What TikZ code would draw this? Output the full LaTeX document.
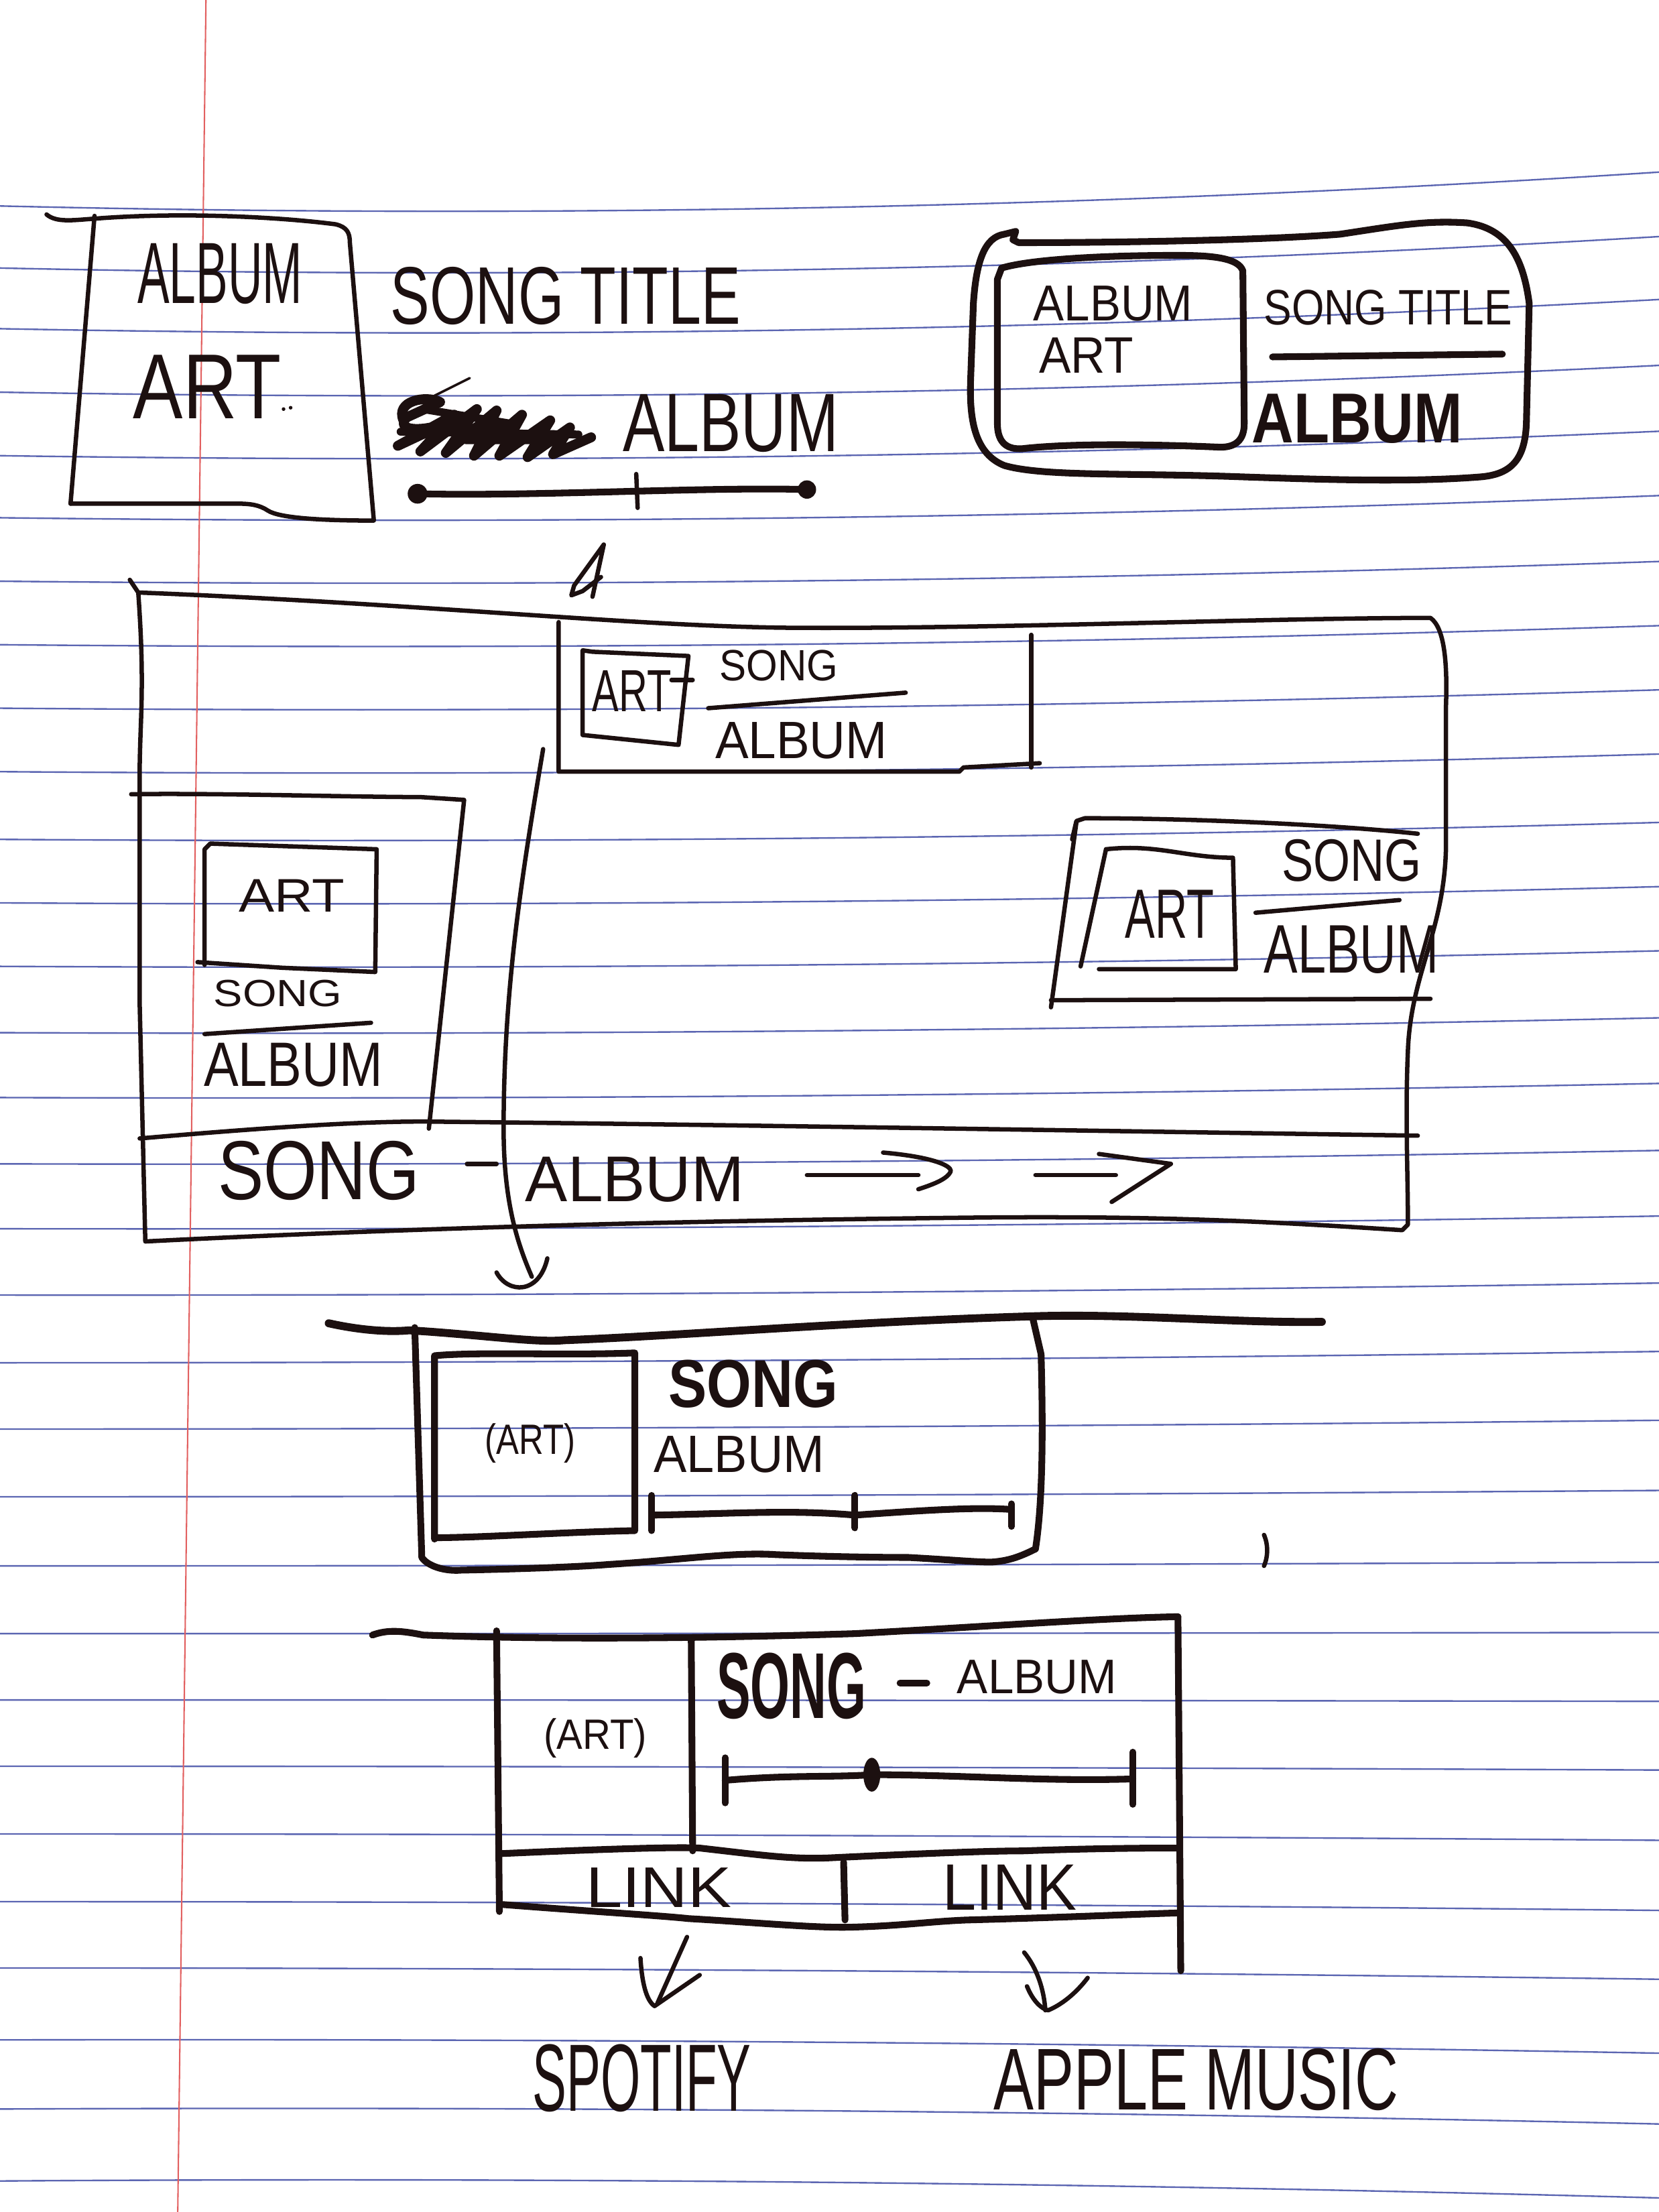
\documentclass[tikz,border=0pt]{standalone}
\usepackage{fontspec}
\setmainfont{Liberation Sans}
\usepackage{graphicx}
\newlength\du
\setlength\du{0.025cm}
% fit a label into a w x h box (picture units)
\newcommand\fitt[3]{\resizebox*{#1\du}{#2\du}{#3}}
\definecolor{ink}{RGB}{28,16,16}
\definecolor{rulecol}{RGB}{92,102,178}
\definecolor{margincol}{RGB}{226,96,96}

\begin{document}
\begin{tikzpicture}[x=0.025cm,y=-0.025cm,
  pen/.style={draw=ink, line width=2.2pt, line cap=round, line join=round},
  heavy/.style={draw=ink, line width=3.4pt, line cap=round, line join=round},
  thick pen/.style={draw=ink, line width=4pt, line cap=round, line join=round},
  txt/.style={inner sep=0pt, outer sep=0pt, text=ink},
  paperrule/.style={draw=rulecol, line width=0.8pt},
]
\useasboundingbox (0,0) rectangle (1176,1568);
\fill[white] (0,0) rectangle (1176,1568);

% ---------- ruled paper ----------
\foreach \ry/\rt/\rs in {146/-24/26,190/-22.3/23.8,233/-20.7/21.7,278/-19/19.5,
  323/-17.3/17.3,367/-15.7/15.2,412/-14/13,457/-13.5/12.3,502/-13/11.5,
  547/-12.5/10.8,595/-12/10,640/-11.5/9.3,685/-11/8.6,732/-10.5/7.8,
  778/-10/7.1,825/-9.5/6.3,871/-9/5.5,918/-8.5/4.8,966/-8/4,1013/-6.2/3.1,
  1061/-4.5/2.2,1110/-2.6/1.3,1158/-0.8/0.4,1205/1/-0.5,1252/2.7/-1.3,
  1300/4.5/-2.2,1348/6.2/-3.1,1395/8/-4,1446/9.4/-6,1495/10.6/-8,1546/12/-10}{
  \pgfmathsetmacro\ca{\ry+(2/3)*(\rt/2+\rs)}
  \pgfmathsetmacro\cb{\ry+\rt+(2/3)*(\rs-\rt/2)}
  \pgfmathsetmacro\ce{\ry+\rt}
  \draw[paperrule] (0,\ry) .. controls (392,\ca) and (784,\cb) .. (1176,\ce);
}
\draw[margincol, line width=0.7pt] (146,0) -- (126,1568);

% ---------- player card, wide layout ----------
\draw[pen] (33,152) .. controls (40,158) and (52,156) .. (67,155)
  .. controls (130,150) and (200,154) .. (238,159)
  .. controls (246,161) and (248,165) .. (248,172) -- (265,369)
  .. controls (225,369) and (198,367) .. (190,362)
  .. controls (184,358) and (178,357) .. (168,357) -- (50,357);
\draw[pen] (67,153) -- (50,357);
\node[txt] (artA) at (156,194) {\fitt{117}{43}{ALBUM}};
\node[txt] (artB) at (147,274) {\fitt{105}{45}{ART}};
\fill[ink] (201,290) circle (1.3) (206,289) circle (1.3);
\node[txt] (titleA) at (401,210) {\fitt{248}{41}{SONG TITLE}};
% crossed-out word
\draw[thick pen, line width=5pt] (286,298) .. controls (280,284) and (302,280) .. (312,285) -- (288,296)
  .. controls (280,306) and (300,306) .. (316,300) -- (282,316) -- (322,294)
  -- (298,320) -- (338,290) -- (316,321) -- (352,291) -- (336,323) -- (370,294)
  -- (354,323) -- (390,298) -- (374,324) -- (404,303) -- (392,322) -- (419,310);
\draw[thick pen] (284,306) -- (410,308);
\draw[thick pen] (300,290) -- (360,300) -- (330,312) -- (395,312);
\draw[pen, line width=1.2pt] (305,282) -- (333,268);
\node[txt] (albumA) at (518,300) {\fitt{153}{41}{ALBUM}};
\coordinate (seekA0) at (296,350);
\coordinate (seekA1) at (572,347);
\draw[heavy] (seekA0) .. controls (380,352) and (500,345) .. (seekA1);
\fill[ink] (seekA0) circle (7) (seekA1) circle (6.5);
\draw[pen] (451,336) -- (452,360);

% ---------- player card, rounded layout ----------
\draw[heavy] (722,172) .. controls (800,172) and (900,170) .. (950,166)
  .. controls (990,160) and (1010,156) .. (1040,158)
  .. controls (1070,162) and (1080,185) .. (1084,215) -- (1082,300)
  .. controls (1081,325) and (1072,336) .. (1050,338)
  .. controls (1000,342) and (940,340) .. (880,338)
  .. controls (800,335) and (740,338) .. (712,330)
  .. controls (692,322) and (687,300) .. (688,270) -- (690,215)
  .. controls (692,185) and (698,168) .. (712,166) -- (720,164) -- (718,170) -- (722,172);
\draw[heavy] (710,190) .. controls (730,184) and (780,181) .. (835,181)
  .. controls (860,181) and (878,183) .. (881,192) -- (882,300)
  .. controls (882,312) and (876,317) .. (865,317)
  .. controls (820,315) and (760,314) .. (725,318)
  .. controls (712,319) and (707,312) .. (707,300) -- (707,198) -- cycle;
\node[txt] (artC) at (789,215) {\fitt{113}{25}{ALBUM}};
\node[txt] (artD) at (770,252) {\fitt{67}{25}{ART}};
\node[txt] (titleB) at (984,218) {\fitt{176}{25}{SONG TITLE}};
\draw[heavy] (902,253) -- (1065,251);
\node[txt] (albumB) at (962,297) {\fitt{149}{35}{\bfseries ALBUM}};

% ---------- full screen with placements ----------
\draw[pen] (420,423) -- (428,386) -- (407,415) -- (405,422) -- (413,419) -- (426,409);
\draw[pen] (92,411) -- (98,420) .. controls (300,428) and (450,444) .. (560,445)
  .. controls (700,446) and (900,438) .. (1014,438)
  .. controls (1024,445) and (1026,470) .. (1025,500) -- (1025,600)
  .. controls (1024,660) and (1000,690) .. (998,745)
  .. controls (996,790) and (998,830) .. (998,868) -- (994,872)
  .. controls (900,866) and (830,862) .. (700,863)
  .. controls (500,865) and (300,870) .. (103,880)
  -- (99,711) -- (99,550) .. controls (99,510) and (103,490) .. (98,420);
\draw[pen] (99,807) .. controls (180,800) and (250,795) .. (300,795)
  .. controls (500,797) and (800,802) .. (1005,805);
% bottom bar
\node[txt] (barSong) at (226,830) {\fitt{143}{42}{SONG}};
\draw[pen] (331,825) -- (352,825);
\node[txt] (barAlbum) at (450,836) {\fitt{155}{32}{ALBUM}};
\draw[pen] (572,833) -- (651,833);
\draw[pen] (626,817) .. controls (660,820) and (674,826) .. (674,830) .. controls (672,836) and (660,840) .. (651,843);
\draw[pen] (734,833) -- (791,833);
\draw[pen] (779,818) -- (830,825) -- (788,852);
% top mini player
\draw[pen] (396,441) -- (396,547) -- (680,547) -- (683,544) -- (737,541);
\draw[pen] (731,450) -- (731,544);
\draw[pen] (413,461) -- (413,521) -- (481,528) -- (488,465) -- (420,462) -- cycle;
\draw[pen] (476,482) -- (491,482);
\node[txt] (miniArt) at (448,490) {\fitt{56}{29}{ART}};
\node[txt] (miniSong) at (552,472) {\fitt{84}{22}{SONG}};
\draw[pen] (502,502) -- (642,491);
\node[txt] (miniAlbum) at (568,525) {\fitt{122}{26}{ALBUM}};
% left card
\draw[pen] (93,563) .. controls (150,562) and (250,565) .. (298,565) -- (329,567) -- (304,800);
\draw[pen] (145,684) -- (145,602) -- (149,598) -- (267,602) -- (266,689) -- (200,686) -- (140,682);
\node[txt] (leftArt) at (207,635) {\fitt{75}{23}{ART}};
\node[txt] (leftSong) at (197,704) {\fitt{91}{19}{SONG}};
\draw[pen] (145,733) -- (263,725);
\node[txt] (leftAlbum) at (208,755) {\fitt{127}{31}{ALBUM}};
% right card
\draw[pen] (760,595) -- (763,582) -- (769,580) .. controls (850,580) and (950,585) .. (1005,591);
\draw[pen] (763,583) -- (745,714);
\draw[pen] (745,709) -- (1014,708);
\draw[pen] (784,602) .. controls (820,598) and (840,608) .. (874,608) -- (876,687) -- (779,687);
\draw[pen] (784,602) -- (766,685);
\node[txt] (rightArt) at (829,648) {\fitt{63}{34}{ART}};
\node[txt] (rightSong) at (958,610) {\fitt{99}{30}{SONG}};
\draw[pen] (890,647) -- (992,638);
\node[txt] (rightAlbum) at (958,673) {\fitt{124}{34}{ALBUM}};

% expand connector
\coordinate (miniTail) at (385,531);
\coordinate (expandTip) at (377,905);
\draw[pen] (miniTail) .. controls (370,620) and (357,700) .. (357,800)
  .. controls (357,850) and (366,880) .. (expandTip);
\draw[pen] (352,902) .. controls (360,917) and (382,918) .. (388,892);

% ---------- expanded player ----------
\draw[thick pen] (233,938) .. controls (260,944) and (280,944) .. (290,943)
  .. controls (340,946) and (380,952) .. (400,950)
  .. controls (480,947) and (600,937) .. (734,933)
  .. controls (800,931) and (880,938) .. (937,937);
\draw[heavy] (294,941) -- (299,1104) .. controls (303,1110) and (315,1114) .. (327,1113)
  .. controls (380,1112) and (420,1110) .. (431,1109)
  .. controls (480,1106) and (520,1100) .. (550,1102)
  .. controls (600,1104) and (640,1104) .. (644,1104)
  .. controls (680,1106) and (700,1108) .. (706,1107)
  .. controls (715,1106) and (722,1104) .. (734,1098)
  .. controls (740,1060) and (739,1000) .. (738,960) -- (732,934);
\draw[heavy] (308,1091) -- (308,961) .. controls (340,958) and (400,961) .. (450,959)
  -- (450,1085) .. controls (400,1086) and (340,1090) .. (308,1090);
\node[txt] (fullArt) at (376,1023) {\fitt{64}{28}{(ART)}};
\node[txt] (fullSong) at (534,981) {\fitt{120}{34}{\bfseries SONG}};
\node[txt] (fullAlbum) at (524,1031) {\fitt{121}{26}{ALBUM}};
\draw[heavy] (462,1060) -- (462,1085);
\draw[heavy] (606,1060) -- (606,1083);
\draw[heavy] (717,1066) -- (717,1082);
\draw[heavy] (462,1074) .. controls (520,1073) and (560,1070) .. (606,1074)
  .. controls (650,1071) and (690,1068) .. (717,1070);
\draw[pen] (896,1088) .. controls (899,1095) and (899,1103) .. (896,1110);

% ---------- player with links ----------
\draw[heavy] (264,1159) .. controls (275,1155) and (285,1156) .. (300,1159)
  .. controls (380,1162) and (480,1162) .. (606,1158)
  .. controls (700,1153) and (780,1147) .. (835,1146);
\draw[heavy] (352,1156) -- (354,1355);
\draw[heavy] (835,1146) -- (837,1397);
\draw[heavy] (490,1163) -- (491,1312);
\draw[heavy] (354,1314) .. controls (420,1311) and (480,1309) .. (496,1310)
  .. controls (540,1315) and (560,1318) .. (587,1317)
  .. controls (650,1314) and (700,1312) .. (725,1312)
  .. controls (780,1310) and (820,1310) .. (835,1310);
\draw[heavy] (598,1320) -- (599,1361);
\draw[heavy] (356,1350) .. controls (420,1355) and (470,1358) .. (488,1360)
  .. controls (540,1363) and (580,1367) .. (606,1366)
  .. controls (640,1365) and (660,1362) .. (685,1361)
  .. controls (760,1359) and (800,1357) .. (835,1356);
\node[txt] (linkArt) at (422,1232) {\fitt{73}{28}{(ART)}};
\node[txt] (linkSong) at (561,1195) {\fitt{106}{47}{\bfseries SONG}};
\draw[heavy] (638,1193) -- (657,1193);
\node[txt] (linkAlbum) at (735,1189) {\fitt{113}{24}{ALBUM}};
\draw[heavy] (514,1246) -- (514,1278);
\draw[heavy] (803,1242) -- (803,1279);
\draw[heavy] (514,1262) .. controls (560,1258) and (590,1260) .. (618,1258)
  .. controls (680,1258) and (740,1263) .. (803,1261);
\fill[ink] (618,1258) ellipse (6 and 12);
\node[txt] (linkA) at (467,1338) {\fitt{103}{28}{LINK}};
\node[txt] (linkB) at (716,1338) {\fitt{95}{32}{LINK}};
\node[txt] (spotify) at (455,1473) {\fitt{155}{48}{SPOTIFY}};
\node[txt] (apple) at (848,1474) {\fitt{287}{44}{APPLE MUSIC}};
% link arrows
\coordinate (arrowA0) at (487,1373);
\coordinate (arrowA1) at (466,1420);
\coordinate (arrowB0) at (726,1384);
\coordinate (arrowB1) at (741,1425);
\draw[pen] (arrowA0) -- (arrowA1);
\draw[pen] (454,1388) .. controls (455,1405) and (458,1418) .. (464,1422) -- (496,1400);
\draw[pen] (arrowB0) .. controls (735,1395) and (740,1410) .. (arrowB1);
\draw[pen] (728,1408) .. controls (732,1418) and (738,1424) .. (743,1425) .. controls (755,1420) and (765,1410) .. (771,1402);
\end{tikzpicture}
\end{document}
